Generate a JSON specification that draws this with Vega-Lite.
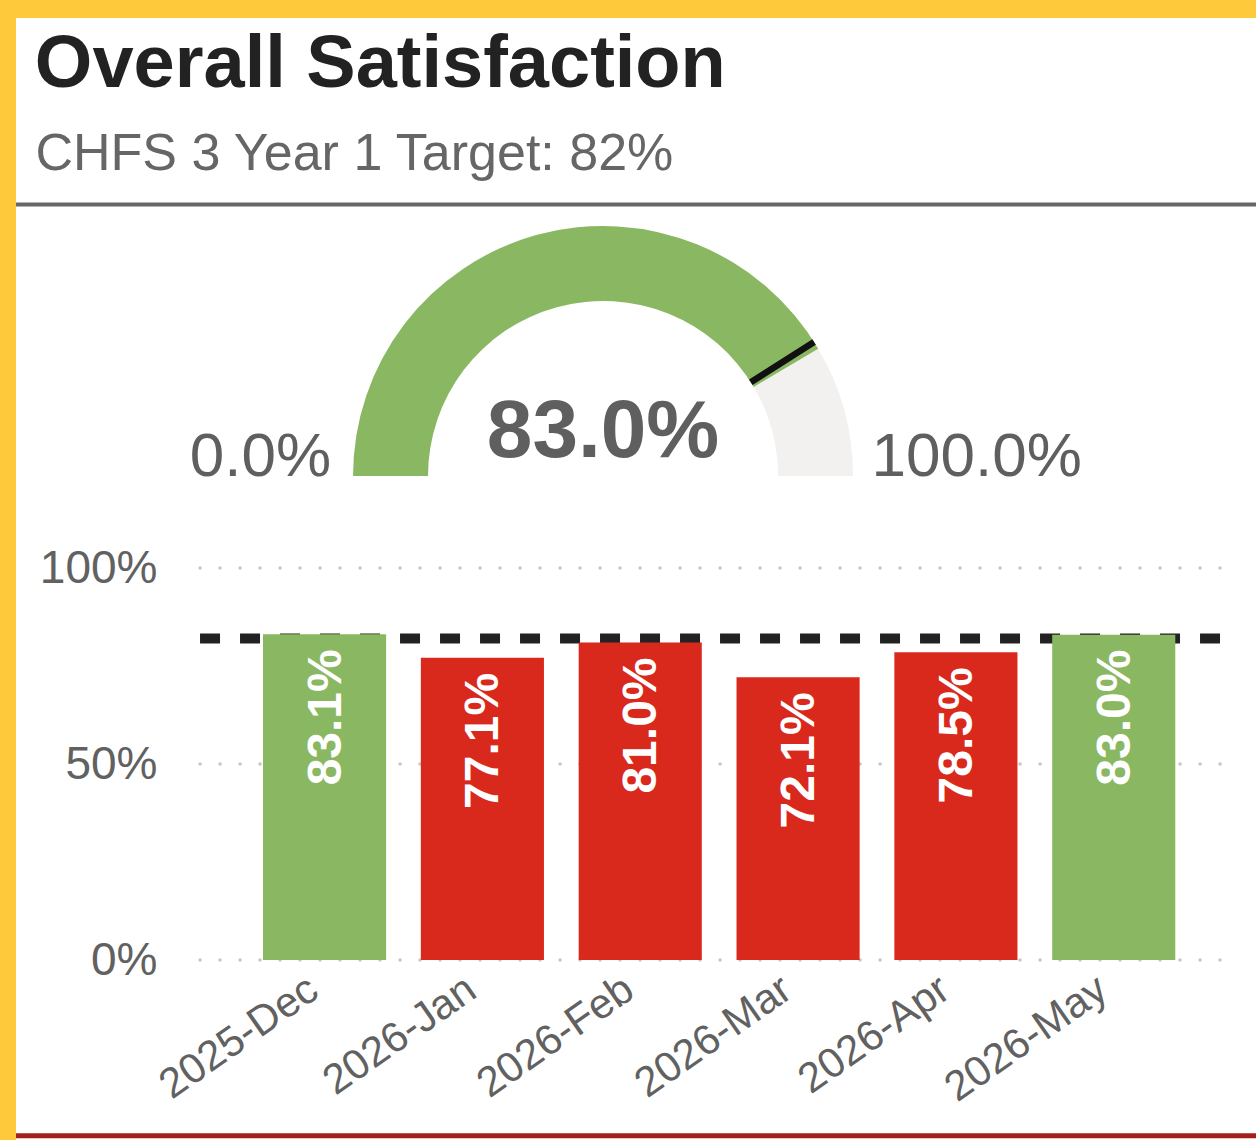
{
  "$schema": "https://vega.github.io/schema/vega-lite/v6.json",
  "width": 1240,
  "height": 1122,
  "autosize": {"type": "none"},
  "padding": {"left": 16, "top": 18, "right": 0, "bottom": 0},
  "background": "#FFC93C",
  "config": {"view": {"fill": "white", "stroke": null}, "font": "Liberation Sans"},
  "datasets": {
    "bars": [
      {"month": "2025-Dec", "value": 0.831},
      {"month": "2026-Jan", "value": 0.771},
      {"month": "2026-Feb", "value": 0.810},
      {"month": "2026-Mar", "value": 0.721},
      {"month": "2026-Apr", "value": 0.785},
      {"month": "2026-May", "value": 0.830}
    ],
    "info": [{"current": 0.83, "target": 0.82, "min": 0, "max": 1}],
    "ticks": [{"tick": 0}, {"tick": 0.5}, {"tick": 1}],
    "one": [{}]
  },
  "layer": [
    {
      "data": {"name": "ticks"},
      "mark": {"type": "rule", "color": "#c8c8c8", "strokeWidth": 3.5, "strokeCap": "round", "strokeDash": [0.1, 19.9]},
      "encoding": {
        "y": {
          "field": "tick", "type": "quantitative", "title": null,
          "scale": {"domain": [-0.45918, 2.40306], "nice": false, "zero": false},
          "axis": {"values": [0, 0.5, 1], "format": ".0%", "offset": -182, "labelPadding": 41, "ticks": false, "tickSize": 0, "domain": false, "grid": false, "labelFontSize": 46, "labelColor": "#616161", "labelFont": "Liberation Sans", "labelBaseline": "middle", "title": null}
        },
        "x": {
          "datum": "2025-Dec", "bandPosition": -0.5115, "title": null,
          "scale": {"type": "band", "domain": ["2025-Dec", "2026-Jan", "2026-Feb", "2026-Mar", "2026-Apr", "2026-May"], "range": [247, 1159.3], "paddingInner": 0.22, "paddingOuter": 0},
          "axis": {"offset": -180, "labelAngle": -35, "labelAlign": "right", "labelBaseline": "middle", "labelPadding": 24.5, "labelOffset": -11, "labelLimit": 0, "ticks": false, "tickSize": 0, "domain": false, "grid": false, "labelFontSize": 42, "labelColor": "#616161", "labelFont": "Liberation Sans", "labelOverlap": false, "labelBound": false, "labelFlush": false, "title": null}
        },
        "x2": {"datum": "2026-May", "bandPosition": 1.5256}
      }
    },
    {
      "data": {"name": "info"},
      "mark": {"type": "rule", "color": "#222222", "strokeWidth": 10, "strokeDash": [20, 20]},
      "encoding": {
        "y": {"field": "target", "type": "quantitative", "title": null},
        "x": {"datum": "2025-Dec", "bandPosition": -0.5115, "title": null},
        "x2": {"datum": "2026-May", "bandPosition": 1.3632}
      }
    },
    {
      "data": {"name": "bars"},
      "mark": {"type": "bar"},
      "encoding": {
        "x": {"field": "month", "type": "nominal", "title": null, "scale": {"type": "band", "domain": ["2025-Dec", "2026-Jan", "2026-Feb", "2026-Mar", "2026-Apr", "2026-May"], "range": [247, 1159.3], "paddingInner": 0.22, "paddingOuter": 0}},
        "y": {"field": "value", "type": "quantitative", "title": null},
        "color": {"condition": {"test": "datum.value >= 0.82", "value": "#8ab862"}, "value": "#d9291d"}
      }
    },
    {
      "data": {"name": "bars"},
      "mark": {"type": "text", "angle": 270, "align": "right", "baseline": "middle", "fontSize": 48, "fontWeight": "bold", "color": "white", "yOffset": 15, "xOffset": 2},
      "encoding": {
        "x": {"field": "month", "type": "nominal", "title": null},
        "y": {"field": "value", "type": "quantitative", "title": null},
        "text": {"field": "value", "type": "quantitative", "format": ".1%"}
      }
    },
    {
      "data": {"name": "one"},
      "mark": {"type": "rule", "color": "#666666", "strokeWidth": 4},
      "encoding": {"y": {"datum": 1.9273, "title": null}}
    },
    {
      "data": {"name": "one"},
      "mark": {"type": "rule", "color": "#a3201b", "strokeWidth": 5},
      "encoding": {"y": {"datum": -0.4485, "title": null}}
    },
    {
      "data": {"name": "info"},
      "mark": {"type": "arc", "radius": 250, "radius2": 175, "color": "#f2f1f0"},
      "encoding": {
        "x": {"datum": "2026-Feb", "bandPosition": 0.1978, "title": null},
        "y": {"datum": 1.2347, "title": null},
        "theta": {"field": "current", "type": "quantitative", "stack": null, "scale": {"type": "linear", "domain": [0, 1], "range": [-1.5708, 1.5708]}},
        "theta2": {"field": "max"}
      }
    },
    {
      "data": {"name": "info"},
      "mark": {"type": "arc", "radius": 250, "radius2": 175, "color": "#8ab862"},
      "encoding": {
        "x": {"datum": "2026-Feb", "bandPosition": 0.1978, "title": null},
        "y": {"datum": 1.2347, "title": null},
        "theta": {"field": "min", "type": "quantitative", "stack": null},
        "theta2": {"field": "current"}
      }
    },
    {
      "data": {"name": "info"},
      "mark": {"type": "arc", "radius": 250, "radius2": 175, "filled": false, "color": "#111111", "strokeWidth": 6.5},
      "encoding": {
        "x": {"datum": "2026-Feb", "bandPosition": 0.1978, "title": null},
        "y": {"datum": 1.2347, "title": null},
        "theta": {"field": "target", "type": "quantitative", "stack": null},
        "theta2": {"field": "target"}
      }
    },
    {
      "data": {"name": "info"},
      "mark": {"type": "text", "align": "center", "baseline": "alphabetic", "fontSize": 82, "fontWeight": "bold", "color": "#5f5f5f"},
      "encoding": {
        "x": {"datum": "2026-Feb", "bandPosition": 0.1978, "title": null},
        "y": {"datum": 1.2832, "title": null},
        "text": {"field": "current", "type": "quantitative", "format": ".1%"}
      }
    },
    {
      "data": {"name": "info"},
      "mark": {"type": "text", "align": "right", "baseline": "alphabetic", "fontSize": 62, "color": "#5f5f5f"},
      "encoding": {
        "x": {"datum": "2025-Dec", "bandPosition": 0.5526, "title": null},
        "y": {"datum": 1.2347, "title": null},
        "text": {"field": "min", "type": "quantitative", "format": ".1%"}
      }
    },
    {
      "data": {"name": "info"},
      "mark": {"type": "text", "align": "left", "baseline": "alphabetic", "fontSize": 62, "color": "#5f5f5f"},
      "encoding": {
        "x": {"datum": "2026-Apr", "bandPosition": -0.1854, "title": null},
        "y": {"datum": 1.2347, "title": null},
        "text": {"field": "max", "type": "quantitative", "format": ".1%"}
      }
    },
    {
      "data": {"name": "one"},
      "mark": {"type": "text", "text": "Overall Satisfaction", "align": "left", "baseline": "alphabetic", "fontSize": 74, "fontWeight": "bold", "color": "#222222"},
      "encoding": {
        "x": {"datum": "2025-Dec", "bandPosition": -1.8533, "title": null},
        "y": {"datum": 2.2262, "title": null}
      }
    },
    {
      "data": {"name": "one"},
      "mark": {"type": "text", "text": "CHFS 3 Year 1 Target: 82%", "align": "left", "baseline": "alphabetic", "fontSize": 52, "color": "#666666"},
      "encoding": {
        "x": {"datum": "2025-Dec", "bandPosition": -1.8484, "title": null},
        "y": {"datum": 2.0153, "title": null}
      }
    }
  ]
}
